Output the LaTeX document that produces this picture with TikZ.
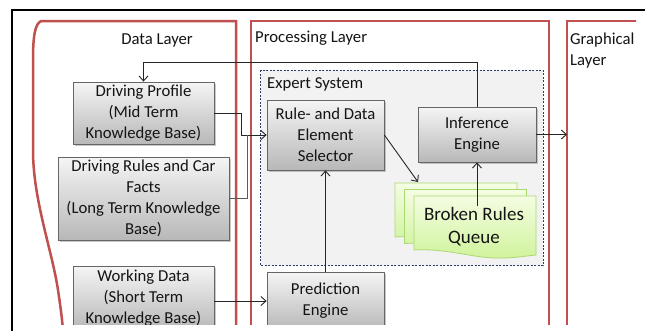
\documentclass[tikz,border=0pt]{standalone}
\usepackage{fontspec}
\setmainfont{Carlito}
\usetikzlibrary{arrows.meta,shadows,calc}
\definecolor{layerred}{RGB}{192,80,77}
\definecolor{esborder}{RGB}{40,60,100}
\definecolor{esfill}{RGB}{242,242,242}
\definecolor{doctop}{RGB}{244,253,226}
\definecolor{docbot}{RGB}{208,243,156}
\definecolor{docline}{RGB}{172,216,112}
\definecolor{txt}{RGB}{20,20,20}
\begin{document}
\begin{tikzpicture}[x=1pt,y=-1pt,
  layer/.style={draw=layerred,line width=2.5pt},
  box/.style={draw=black!60,line width=0.8pt,top color=black!4,bottom color=black!28,
    align=center,font=\fontsize{16.7}{20.8}\selectfont,text=txt,inner sep=2pt,
    drop shadow={shadow xshift=1.5pt,shadow yshift=-1.5pt,opacity=0.35,fill=black!60}},
  lbl/.style={font=\fontsize{16.7}{20.8}\selectfont,text=txt,inner sep=0pt},
  arr/.style={draw=black!85,line width=0.9pt,-{Straight Barb[length=5pt,width=9pt]}},
  ln/.style={draw=black!85,line width=0.9pt},
  docpart/.style={draw=docline,line width=0.8pt,top color=doctop,bottom color=docbot},
  docpic/.pic={\path[docpart] (0,0) -- (122,0) -- (122,59)
      .. controls (112,60) and (100,62) .. (88,62)
      .. controls (60,63) and (35,52) .. (0,54) -- cycle;}
]
\useasboundingbox (0,0) rectangle (645,330);
\fill[white] (0,0) rectangle (645,330);
\begin{scope}
\clip (0,0) rectangle (636,324);
% layers
\draw[layer] (236,345) -- (236,21) -- (41,21)
  .. controls (35,24) and (33,36) .. (33,60) -- (33,150)
  .. controls (33,200) and (52,250) .. (58,290)
  .. controls (61,310) and (63,325) .. (64,345);
\draw[layer] (251,345) -- (251,21) -- (549,21) -- (549,345);
\draw[layer] (567,345) -- (567,21) -- (645,21);
\node[lbl] (dl) at (157,40) {Data Layer};
\node[lbl,anchor=west] (pl) at (255,38) {Processing Layer};
\node[lbl,anchor=north west,align=left] (gl) at (570,33) {Graphical\\Layer};
% expert system
\draw[draw=esborder,fill=esfill,line width=0.7pt,dash pattern=on 2pt off 1.5pt] (260.5,70) rectangle (543,265.5);
\node[lbl,anchor=west] (es) at (267,84) {Expert System};
% boxes
\node[box,minimum width=141pt,minimum height=62pt] (dp) at (143.5,113) {Driving Profile\\(Mid Term\\Knowledge Base)};
\node[box,minimum width=171pt,minimum height=83pt] (dr) at (143.5,198.5) {Driving Rules and Car\\Facts\\(Long Term Knowledge\\Base)};
\node[box,minimum width=141pt,minimum height=64pt] (wd) at (143.5,298) {Working Data\\(Short Term\\Knowledge Base)};
\node[box,minimum width=117pt,minimum height=70pt] (rs) at (325.5,135) {Rule- and Data\\Element\\Selector};
\node[box,minimum width=118pt,minimum height=55pt] (ie) at (477,134.5) {Inference\\Engine};
\node[box,minimum width=117pt,minimum height=58pt] (pe) at (325.5,301) {Prediction\\Engine};
% broken rules queue
\pic at (395,183) {docpic};
\pic at (404.5,189.5) {docpic};
\pic at (414,196) {docpic};
\node[font=\fontsize{19}{23}\selectfont,text=txt,align=center,inner sep=0pt] (q) at (474,226.5) {Broken Rules\\Queue};
\coordinate (qin) at (418,182);
\coordinate (qout) at (477,206);
\coordinate (glin) at (567,134.5);
% connectors
\draw[arr] (ie.north) -- ++(0,-44) -| (dp.north);
\draw[arr] (dp.east) -- ++(27,0) |- (rs.west);
\draw[ln,draw=black!65] (dr.east) -- ++(18,0) |- ([xshift=-20pt]rs.west);
\draw[arr] (wd.east |- pe.west) -- (pe.west);
\draw[arr] (pe.north) -- (rs.south);
\draw[arr] (rs.east) -- (qin);
\draw[arr] (qout) -- (ie.south);
\draw[arr] (ie.east) -- (glin);
\end{scope}
\draw[line width=2pt] (12,331) -- (12,10) -- (646,10);
\end{tikzpicture}
\end{document}
